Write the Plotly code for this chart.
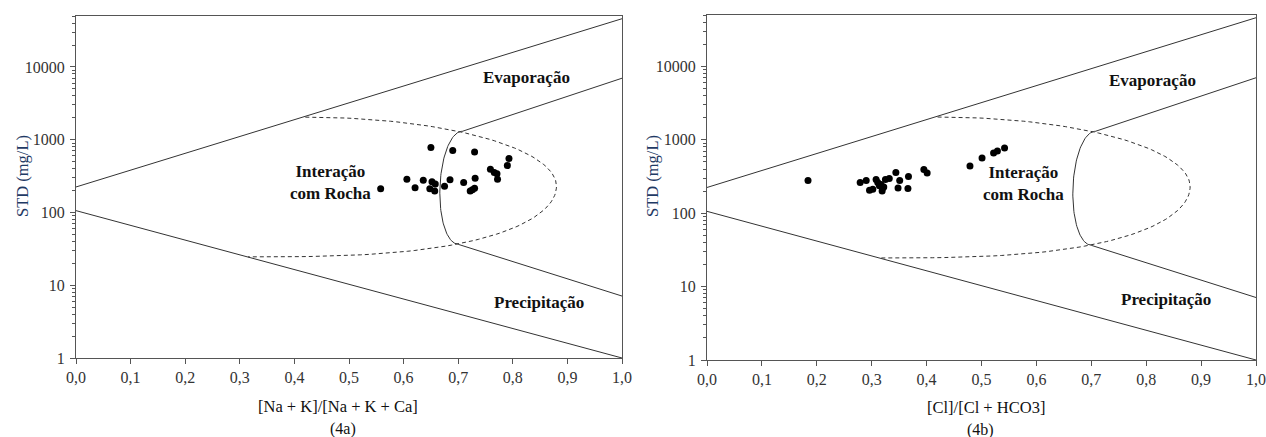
import numpy as np
import plotly.graph_objects as go

# ---------------- data ----------------
# Panel 4a: [Na+K]/[Na+K+Ca] vs STD (mg/L)
na_ratio = [0.650, 0.690, 0.730, 0.793, 0.790, 0.759, 0.766, 0.771, 0.772, 0.731,
            0.710, 0.685, 0.675, 0.606, 0.636, 0.652, 0.658, 0.621, 0.648, 0.657,
            0.558, 0.722, 0.730, 0.726]
na_std = [781, 711, 675, 551, 441, 394, 354, 340, 287, 296,
          258, 281, 230, 287, 278, 264, 247, 218, 211, 198,
          211, 198, 216, 205]

# Panel 4b: [Cl]/[Cl+HCO3] vs STD (mg/L)
cl_ratio = [0.184, 0.279, 0.290, 0.308, 0.311, 0.317, 0.325, 0.332, 0.344, 0.351,
            0.367, 0.296, 0.302, 0.319, 0.320, 0.348, 0.366, 0.395, 0.401, 0.479,
            0.501, 0.522, 0.529, 0.542, 0.314, 0.322]
cl_std = [279, 261, 279, 287, 261, 246, 287, 297, 357, 279,
          316, 206, 212, 201, 221, 221, 217, 393, 354, 440,
          565, 662, 704, 774, 236, 228]

# Gibbs boundary lines (x, STD)
upper_x = [0.0, 1.0]
upper_y = [224, 46000]
lower_x = [0.0, 1.0]
lower_y = [106, 1.0]
evap_x = [0.707, 1.0]
evap_y = [1300, 7000]
prec_x = [0.700, 1.0]
prec_y = [36.5, 7.1]

x_ticks = [0.0, 0.1, 0.2, 0.3, 0.4, 0.5, 0.6, 0.7, 0.8, 0.9, 1.0]
y_ticks = [1, 10, 100, 1000, 10000]

FONT = "'Liberation Serif', 'Times New Roman', 'DejaVu Serif', serif"
LINE = "#333333"


def boomerang():
    t = np.linspace(-np.pi / 2, np.pi / 2, 80)
    xc = 0.7035 + 0.0035 * np.sin(t)
    x = xc - 0.037 * np.cos(t)
    ly = 2.34 + 0.775 * np.sin(t)
    return x, 10 ** ly


def dashed_ellipse():
    t1 = np.linspace(np.pi / 2, 0, 60)
    x1 = 0.42 + 0.46 * np.cos(t1)
    y1 = 2.36 + 0.95 * np.sin(t1)
    t2 = np.linspace(0, np.pi / 2, 60)[1:]
    x2 = 0.315 + 0.565 * np.cos(t2) ** 0.7
    y2 = 2.36 - 0.97 * np.sin(t2)
    return np.concatenate([x1, x2]), 10 ** np.concatenate([y1, y2])


fig = go.Figure()

bx, by = boomerang()
ex, ey = dashed_ellipse()

for i, (xs, ys) in enumerate([(na_ratio, na_std), (cl_ratio, cl_std)]):
    xa = "x" if i == 0 else "x2"
    ya = "y" if i == 0 else "y2"
    for lx, lyv in [(upper_x, upper_y), (lower_x, lower_y), (evap_x, evap_y), (prec_x, prec_y)]:
        fig.add_trace(go.Scatter(x=lx, y=lyv, mode="lines", line=dict(color=LINE, width=1),
                                 xaxis=xa, yaxis=ya, showlegend=False, hoverinfo="skip"))
    fig.add_trace(go.Scatter(x=bx, y=by, mode="lines", line=dict(color=LINE, width=1),
                             xaxis=xa, yaxis=ya, showlegend=False, hoverinfo="skip"))
    fig.add_trace(go.Scatter(x=ex, y=ey, mode="lines", line=dict(color=LINE, width=1, dash="4px,3px"),
                             xaxis=xa, yaxis=ya, showlegend=False, hoverinfo="skip"))
    fig.add_trace(go.Scatter(x=xs, y=ys, mode="markers", marker=dict(color="black", size=7),
                             xaxis=xa, yaxis=ya, showlegend=False))

W, H = 1266, 437


def xd(a, b):
    return [a / W, b / W]


def yd(top, bot):
    return [1 - bot / H, 1 - top / H]


axis_common = dict(showgrid=False, zeroline=False, showline=True, linecolor="#555", linewidth=1,
                   mirror=True, automargin=False,
                   tickfont=dict(family=FONT, size=16, color="#333"))

xaxis_cfg = dict(axis_common, range=[0, 1], tickvals=x_ticks, tickformat=".1f",
                 ticks="outside", ticklen=5, tickcolor="#555")
yaxis_cfg = dict(axis_common, type="log", range=[0, 4.7], tickvals=y_ticks,
                 ticktext=[str(v) for v in y_ticks], ticks="outside", ticklen=5, tickcolor="#555",
                 ticklabelstandoff=2,
                 minor=dict(ticks="outside", ticklen=3, tickcolor="#555", dtick="D1"))

fig.update_layout(
    template="none",
    width=W, height=H,
    margin=dict(l=0, r=0, t=0, b=0, autoexpand=False),
    paper_bgcolor="white", plot_bgcolor="white",
    separators=", ",
    xaxis=dict(xaxis_cfg, domain=xd(76, 622), anchor="y"),
    yaxis=dict(yaxis_cfg, domain=yd(16, 358), anchor="x"),
    xaxis2=dict(xaxis_cfg, domain=xd(707, 1256), anchor="y2"),
    yaxis2=dict(yaxis_cfg, domain=yd(15, 360), anchor="x2"),
)

ann = []


def px(xp, yp, text, size, bold=False, color="#111", angle=0):
    ann.append(dict(x=xp / W, y=1 - yp / H, xref="paper", yref="paper",
                    text=f"<b>{text}</b>" if bold else text, showarrow=False, align="center",
                    xanchor="center", yanchor="middle", textangle=angle,
                    font=dict(family=FONT, size=size, color=color)))


px(22, 176, "STD (mg/L)", 16.5, color="#1F3A64", angle=-90)
px(652, 176, "STD (mg/L)", 16.5, color="#1F3A64", angle=-90)

px(338, 406, "[Na + K]/[Na + K + Ca]", 16.5)
px(343, 429, "(4a)", 16)
px(986, 407, "[Cl]/[Cl + HCO3]", 16.5)
px(981, 430, "(4b)", 16)

px(526, 77, "Evaporação", 17, True)
px(330, 182, "Interação<br>com Rocha", 17, True)
px(539, 302, "Precipitação", 17, True)
px(1152, 81, "Evaporação", 17, True)
px(1023, 183, "Interação<br>com Rocha", 17, True)
px(1166, 299, "Precipitação", 17, True)

fig.update_layout(annotations=ann)

fig.write_html("out.html")
